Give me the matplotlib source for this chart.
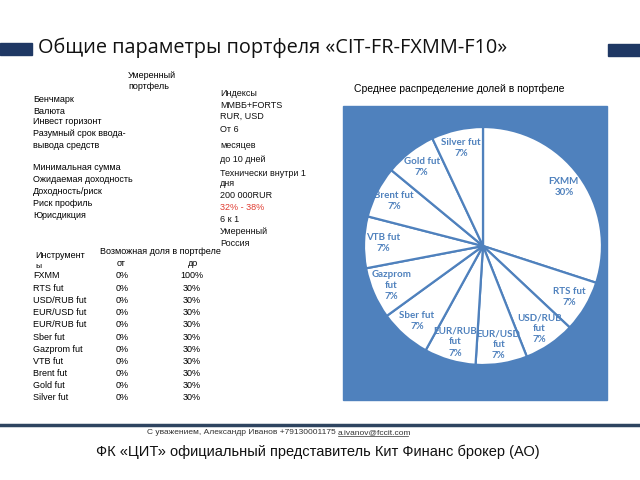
import matplotlib
matplotlib.use("Agg")
import matplotlib.pyplot as plt
from matplotlib.patches import Rectangle

# --- data -------------------------------------------------------------
instruments = ["FXMM", "RTS fut", "USD/RUB fut", "EUR/USD fut", "EUR/RUB fut",
               "Sber fut", "Gazprom fut", "VTB fut", "Brent fut", "Gold fut", "Silver fut"]
share_min = [0, 0, 0, 0, 0, 0, 0, 0, 0, 0, 0]
share_max = [100, 30, 30, 30, 30, 30, 30, 30, 30, 30, 30]
avg_share = [30, 7, 7, 7, 7, 7, 7, 7, 7, 7, 7]
pie_names = ["FXMM", "RTS fut", "USD/RUB\nfut", "EUR/USD\nfut", "EUR/RUB\nfut",
             "Sber fut", "Gazprom\nfut", "VTB fut", "Brent fut", "Gold fut", "Silver fut"]

param_names = ["Бенчмарк", "Валюта", "Инвест горизонт", "Разумный срок ввода-",
               "вывода средств", "Минимальная сумма", "Ожидаемая доходность",
               "Доходность/риск", "Риск профиль", "Юрисдикция"]
param_values = ["Индексы", "ММВБ+FORTS", "RUR, USD", "От 6", "месяцев", "до 10 дней",
                "Технически внутри 1", "дня", "200 000RUR", "32% - 38%", "6 к 1",
                "Умеренный", "Россия"]

# --- layout (pixels) ----------------------------------------------------
param_name_y = [99, 111, 122, 134, 145, 168, 180, 192, 204, 216]
param_value_y = [94, 105, 116, 129, 145, 160, 173, 184, 196, 208, 220, 232, 243]
row_y0, row_step = 276, 12.2

BLUE = "#4F81BD"
NAVY = "#1F3864"
FONT = "Liberation Sans"

fig = plt.figure(figsize=(6.4, 4.8), dpi=100)
ax = fig.add_axes([0, 0, 1, 1])
ax.set_xlim(0, 640)
ax.set_ylim(480, 0)
ax.axis("off")

# title with bars
ax.add_patch(Rectangle((0, 43), 32, 12, color=NAVY))
ax.add_patch(Rectangle((608, 44), 32, 12, color=NAVY))
ax.text(38, 48, "Общие параметры портфеля «CIT-FR-FXMM-F10»", fontsize=14.3,
        family="Open Sans", va="center", ha="left", color="#111111")

# parameters block
ax.text(128, 81, "Умеренный\nпортфель", fontsize=6.5, family=FONT, va="center",
        ha="left", linespacing=1.3)
for name, y in zip(param_names, param_name_y):
    ax.text(33, y, name, fontsize=6.5, family=FONT, va="center", ha="left")
for val, y in zip(param_values, param_value_y):
    col = "#E03C31" if "%" in val else "#111111"
    ax.text(220, y, val, fontsize=6.5, family=FONT, va="center", ha="left", color=col)

# instruments table
ax.text(160, 251, "Возможная доля в портфеле", fontsize=6.5, family=FONT,
        va="center", ha="center")
ax.text(35, 256, "Инструмент", fontsize=6.5, family=FONT, va="center", ha="left")
ax.text(35, 266.5, "ы", fontsize=6, family=FONT, va="center", ha="left")
ax.text(121, 264, "от", fontsize=6.5, family=FONT, va="center", ha="center")
ax.text(193, 264, "до", fontsize=6.5, family=FONT, va="center", ha="center")
for i, (inst, lo, hi) in enumerate(zip(instruments, share_min, share_max)):
    y = row_y0 + i * row_step
    ax.text(33, y, inst, fontsize=6.5, family=FONT, va="center", ha="left")
    ax.text(122, y, f"{lo}%", fontsize=6.5, family=FONT, va="center", ha="center")
    ax.text(192, y, f"{hi}%", fontsize=6.5, family=FONT, va="center", ha="center")

# pie block
ax.text(354, 89, "Среднее распределение долей в портфеле", fontsize=7.5,
        family=FONT, va="center", ha="left")
ax.add_patch(Rectangle((343, 106), 264, 294, color=BLUE))

cx, cy, r = 483, 246, 119
pax = fig.add_axes([(cx - r) / 640, (480 - cy - r) / 480, 2 * r / 640, 2 * r / 480])
pax.set_facecolor("none")
labels = [f"{n}\n{v}%" for n, v in zip(pie_names, avg_share)]
pax.pie(avg_share, labels=labels, startangle=90, counterclock=False,
        colors=["white"] * len(avg_share), labeldistance=0.84,
        wedgeprops=dict(edgecolor=BLUE, linewidth=1.6),
        textprops=dict(color=BLUE, fontsize=7, fontweight="bold", family="Lato",
                       ha="center", va="center", linespacing=1.3))
pax.set_xlim(-1, 1)
pax.set_ylim(-1, 1)
pax.set_aspect("equal")

# footer
ax.axhline(425, color="#2E4460", linewidth=2.5)
ax.text(338, 433, "С уважением, Александр Иванов +79130001175 ", fontsize=6,
        family=FONT, va="center", ha="right", color="#333333")
ax.text(338, 433, "a.ivanov@fccit.com", fontsize=6, family=FONT, va="center",
        ha="left", color="#333333")
ax.plot([338, 408], [436, 436], color="#333333", linewidth=0.5)
ax.text(318, 452, "ФК «ЦИТ» официальный представитель Кит Финанс брокер (АО)",
        fontsize=10.5, family=FONT, va="center", ha="center", color="#111111")

fig.savefig("out.png", dpi=100)
